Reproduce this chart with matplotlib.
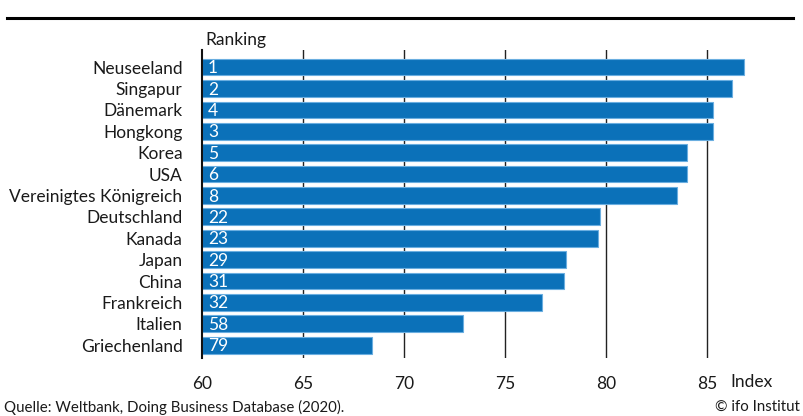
import numpy as np
import matplotlib
matplotlib.use("Agg")
import matplotlib.pyplot as plt

plt.rcParams['font.family'] = ['Lato', 'DejaVu Sans']

# Daten
laender = ["Neuseeland", "Singapur", "Dänemark", "Hongkong", "Korea", "USA",
           "Vereinigtes Königreich", "Deutschland", "Kanada", "Japan", "China",
           "Frankreich", "Italien", "Griechenland"]
index_werte = [86.8, 86.2, 85.3, 85.3, 84.0, 84.0, 83.5, 79.7, 79.6, 78.0, 77.9, 76.8, 72.9, 68.4]
ranking = [1, 2, 4, 3, 5, 6, 8, 22, 23, 29, 31, 32, 58, 79]
x_ticks = [60, 65, 70, 75, 80, 85]

blau = "#0b71b9"
fs = 12.5

fig = plt.figure(figsize=(8.04, 4.16), dpi=100)
ax = fig.add_axes([202/804, 1 - 358/416, 566/804, 308/416])

y = np.arange(len(laender))
ax.barh(y, [v - 60 for v in index_werte], left=60, height=0.78,
        color=blau, edgecolor="#6aaee0", linewidth=0.8, zorder=3)

for xt in x_ticks[1:]:
    ax.axvline(xt, color="#222222", linewidth=1.0, zorder=1)

for i, r in enumerate(ranking):
    ax.text(60.3, i + 0.05, str(r), color="white", fontsize=12.5,
            ha="left", va="center", zorder=4)

ax.set_xlim(60, 88)
ax.set_ylim(13.6, -0.8)

ax.set_yticks(y)
ax.set_yticklabels(laender, fontsize=fs, color="#1a1a1a")
ax.tick_params(axis="y", length=0, pad=14)
ax.set_xticks(x_ticks)
ax.set_xticklabels([str(t) for t in x_ticks], fontsize=fs, color="#1a1a1a")
ax.tick_params(axis="x", length=0, pad=13)

for s in ["top", "right", "bottom"]:
    ax.spines[s].set_visible(False)
ax.spines["left"].set_color("#111111")
ax.spines["left"].set_linewidth(1.5)
ax.spines["left"].set_zorder(5)

fig.text(205/804, 1 - 40/416, "Ranking", fontsize=fs, color="#1a1a1a", ha="left", va="center")
fig.text(730/804, 1 - 382/416, "Index", fontsize=fs, color="#1a1a1a", ha="left", va="center")
fig.text(4/804, 1 - 407/416, "Quelle: Weltbank, Doing Business Database (2020).", fontsize=10.8,
         color="#1a1a1a", ha="left", va="center")
fig.text(800/804, 1 - 407/416, "© ifo Institut", fontsize=10.8, color="#1a1a1a", ha="right", va="center")

# Linie oben
fig.add_artist(plt.Line2D([7/804, 793/804], [1 - 18/416, 1 - 18/416], color="black", linewidth=2.2))

fig.savefig("out.png", dpi=100)
